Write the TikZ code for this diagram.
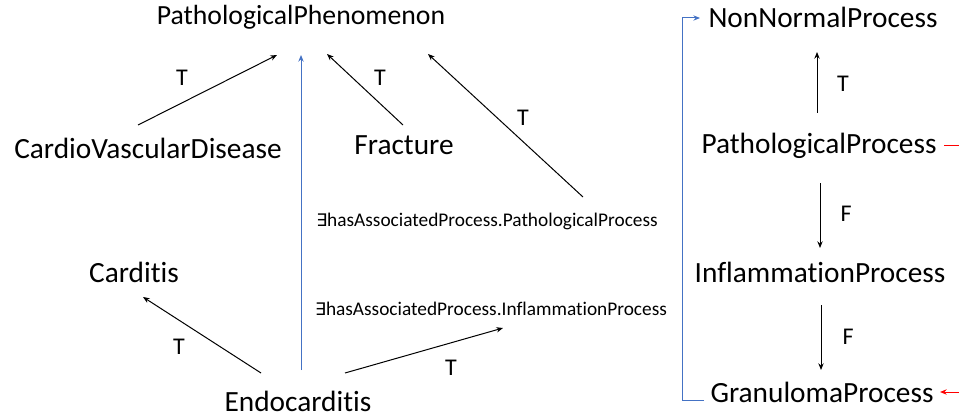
\documentclass[tikz,border=0pt]{standalone}
\usepackage{fontspec}
\setmainfont{Carlito}[Ligatures=NoCommon]
\newfontfamily\symfont{DejaVu Sans}
\usetikzlibrary{arrows.meta}
\definecolor{oblue}{HTML}{4472C4}
\newcommand{\exs}{{\symfont\fontsize{13}{15}\selectfont ∃}}
\begin{document}
\begin{tikzpicture}[x=0.75pt,y=-0.75pt,
  concept/.style={inner sep=0pt,font=\fontsize{22}{26}\selectfont},
  restr/.style={inner sep=0pt,font=\fontsize{14.5}{17}\selectfont},
  lab/.style={inner sep=0pt,font=\fontsize{18}{21}\selectfont},
  arr/.style={-{Stealth[length=5pt,width=4pt]},line width=0.75pt,black},
  barr/.style={-{Stealth[length=5pt,width=4pt]},line width=0.75pt,oblue},
  rline/.style={line width=0.75pt,red},
  rarr/.style={-{Stealth[length=5pt,width=4pt]},line width=0.75pt,red}]
\useasboundingbox (0,0) rectangle (959,417);
% nodes
\node[concept,font=\fontsize{20.8}{25}\selectfont] (pp) at (301,17) {PathologicalPhenomenon};
\node[concept] (cvd) at (148,148) {CardioVascularDisease};
\node[concept] (frac) at (404,145) {Fracture};
\node[restr] (exPP) at (487,221) {\exs hasAssociatedProcess.PathologicalProcess};
\node[concept] (card) at (134,272) {Carditis};
\node[restr] (exIP) at (491,309) {\exs hasAssociatedProcess.InflammationProcess};
\node[concept] (endo) at (298,401) {Endocarditis};
\node[concept] (nnp) at (823,17) {NonNormalProcess};
\node[concept] (pproc) at (819,146) {PathologicalProcess};
\node[concept] (iproc) at (820,272) {InflammationProcess};
\node[concept] (gproc) at (822,392) {GranulomaProcess};
\coordinate (redA) at (959,146);
\coordinate (redB) at (959,392);
% edges
\draw[arr] ([shift={(-10,-23)}]cvd.center) -- ([shift={(-24,38)}]pp.center);
\draw[arr] ([shift={(-1,-20)}]frac.center) -- ([shift={(26,37)}]pp.center);
\draw[arr] ([shift={(96,-24)}]exPP.center) -- ([shift={(127,37)}]pp.center);
\draw[barr] ([shift={(3,-31)}]endo.center) -- ([shift={(0,38)}]pp.center);
\draw[arr] ([shift={(-37,-28)}]endo.center) -- ([shift={(9,25)}]card.center);
\draw[arr] ([shift={(47,-28)}]endo.center) -- ([shift={(12,19)}]exIP.center);
\draw[arr] ([shift={(-2,-33)}]pproc.center) -- ([shift={(-6,35)}]nnp.center);
\draw[arr] ([shift={(1,37)}]pproc.center) -- ([shift={(0,-24)}]iproc.center);
\draw[arr] ([shift={(1,33)}]iproc.center) -- ([shift={(-1,-22)}]gproc.center);
\draw[barr] ([shift={(-118,8)}]gproc.center) -- ++(-22,0) |- ([shift={(-123,1)}]nnp.center);
\draw[rline] ([shift={(125,0)}]pproc.center) -- (redA);
\draw[rarr] (redB) -- ([shift={(118,0)}]gproc.center);
% labels
\node[lab] (t1) at (182,78) {T};
\node[lab] (t2) at (380,78) {T};
\node[lab] (t3) at (523,118) {T};
\node[lab] (t4) at (179,347) {T};
\node[lab] (t5) at (451,368) {T};
\node[lab] (t6) at (843,84) {T};
\node[lab] (f1) at (846,214) {F};
\node[lab] (f2) at (848,337) {F};
\end{tikzpicture}
\end{document}
